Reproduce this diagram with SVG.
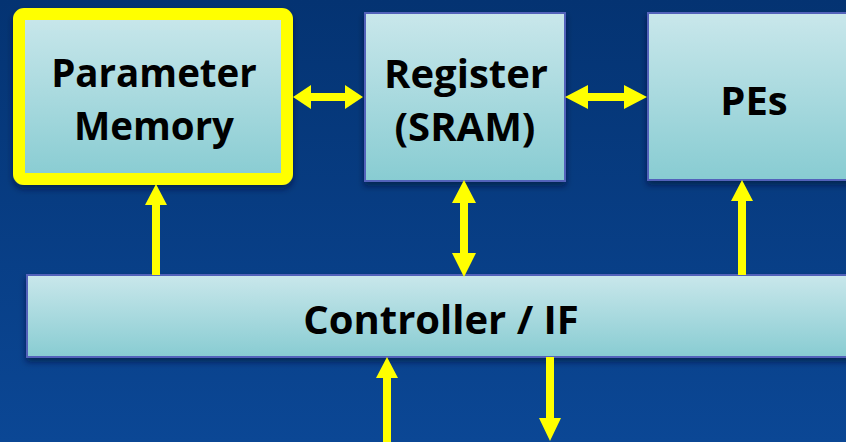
<svg xmlns="http://www.w3.org/2000/svg" width="846" height="442" viewBox="0 0 846 442">
<defs>
<linearGradient id="bg" x1="0" y1="0" x2="0" y2="1">
<stop offset="0" stop-color="#043372"/>
<stop offset="1" stop-color="#0b4795"/>
</linearGradient>
<linearGradient id="box" x1="0" y1="0" x2="0" y2="1">
<stop offset="0" stop-color="#c9e7eb"/>
<stop offset="1" stop-color="#88ccd2"/>
</linearGradient>
<filter id="sh" x="-10%" y="-10%" width="120%" height="130%">
<feDropShadow dx="0" dy="4" stdDeviation="3" flood-color="#000a30" flood-opacity="0.6"/>
</filter>
<style>
.box{fill:url(#box);stroke:#5262ba;stroke-width:2;filter:url(#sh)}
.lbl{font-family:"Open Sans","Liberation Sans",sans-serif;font-weight:bold;font-size:40px;fill:#000;text-anchor:middle}
.arr{fill:#ffff00}
</style>
</defs>
<rect width="846" height="442" fill="url(#bg)"/>
<g id="parameter-memory">
<rect x="19" y="14" width="268" height="165" rx="5" fill="url(#box)" stroke="#ffff00" stroke-width="12" filter="url(#sh)"/>
<text class="lbl" x="154" y="87" style="font-size:38.5px">Parameter</text>
<text class="lbl" x="154" y="140" style="font-size:38.5px">Memory</text>
</g>
<g id="register">
<rect class="box" x="365" y="13" width="200" height="168"/>
<text class="lbl" x="466" y="88">Register</text>
<text class="lbl" x="465" y="141">(SRAM)</text>
</g>
<g id="pes">
<rect class="box" x="648" y="13" width="210" height="167"/>
<text class="lbl" x="754" y="115">PEs</text>
</g>
<g id="controller">
<rect class="box" x="27" y="275" width="830" height="82"/>
<text class="lbl" x="441" y="334">Controller / IF</text>
</g>
<g id="connectors">
<polygon class="arr" points="293,97 311,85 311,93 345,93 345,85 363,97 345,109 345,101 311,101 311,109"/>
<polygon class="arr" points="565,97 588,85 588,93 624,93 624,85 647,97 624,109 624,101 588,101 588,109"/>
<polygon class="arr" points="464,180 476,203 468,203 468,253 476,253 464,277 452,253 460,253 460,203 452,203"/>
<polygon class="arr" points="156,184 167,205 160,205 160,275 152,275 152,205 145,205"/>
<polygon class="arr" points="742,180 753,201 746,201 746,275 738,275 738,201 731,201"/>
<polygon class="arr" points="387,357 398,378 391,378 391,442 383,442 383,378 376,378"/>
<polygon class="arr" points="550,441 561,418 554,418 554,357 546,357 546,418 539,418"/>
</g>
</svg>
